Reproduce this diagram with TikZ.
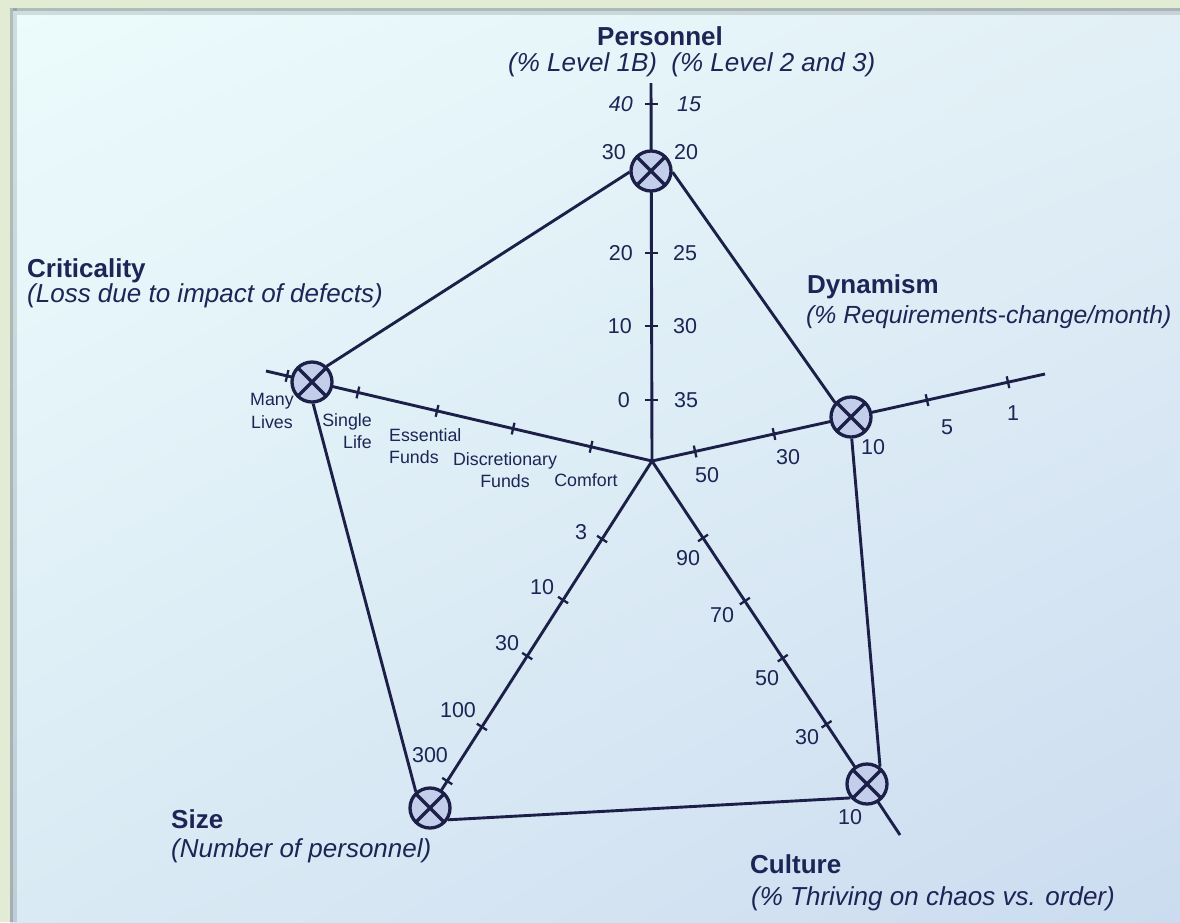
\documentclass[tikz,border=0pt]{standalone}
\usepackage{fontspec}
\setmainfont{Liberation Sans}
\usetikzlibrary{calc,shadings}

\definecolor{ink}{HTML}{1C2048}
\definecolor{txt}{HTML}{1E2455}
\definecolor{dotfill}{HTML}{C3CEEB}
\definecolor{frame}{HTML}{E2EBD3}
\definecolor{paperUL}{HTML}{ECFCFC}
\definecolor{paperUR}{HTML}{E2F0F6}
\definecolor{paperLL}{HTML}{DAEAF4}
\definecolor{paperLR}{HTML}{CCDCF0}

\pgfdeclarelayer{paper}
\pgfdeclarelayer{lines}
\pgfsetlayers{paper,lines,main}

% short mark across an axis: axis start, axis end, approximate point
\newcommand\axtick[3]{%
  \coordinate (tk) at ($(#1)!(#3)!(#2)$);
  \draw[tickmark] ($(tk)!6pt!90:(#2)$) -- ($(tk)!6pt!-90:(#2)$);}

\begin{document}
\begin{tikzpicture}[x=1pt,y=-1pt,
  axis/.style={draw=ink, line width=2.9pt},
  prof/.style={draw=ink, line width=2.9pt},
  tickmark/.style={draw=ink, line width=2.3pt},
  dot/.style={circle, draw=ink, line width=3.3pt, fill=dotfill,
    minimum size=40pt, inner sep=0pt,
    path picture={\draw[ink, line width=3.3pt]
      (path picture bounding box.north west) -- (path picture bounding box.south east)
      (path picture bounding box.north east) -- (path picture bounding box.south west);}},
  ttl/.style={font=\fontsize{26}{30}\selectfont\bfseries, text=txt, inner sep=0pt, anchor=base west},
  sub/.style={font=\fontsize{26}{30}\selectfont\itshape, text=txt, inner sep=0pt, anchor=base west},
  num/.style={font=\fontsize{21.5}{25}\selectfont, text=txt, inner sep=0pt},
  numi/.style={font=\fontsize{21.5}{25}\selectfont\itshape, text=txt, inner sep=0pt},
  cat/.style={font=\fontsize{17.8}{22.6}\selectfont, text=txt, inner sep=0pt, align=center},
]
\useasboundingbox (0,0) rectangle (1180,922);

% paper with its mount
\begin{pgfonlayer}{paper}
  \fill[frame] (0,0) rectangle (1180,922);
  \shade[upper left=paperUL, upper right=paperUR,
         lower left=paperLL, lower right=paperLR]
    (10,8) rectangle (1180,922);
  \fill[black, opacity=0.25] (10,8) rectangle (13,922);
  \fill[black, opacity=0.12] (13,8) rectangle (17,922);
  \fill[black, opacity=0.25] (13,8) rectangle (1180,11);
  \fill[black, opacity=0.12] (17,11) rectangle (1180,15);
\end{pgfonlayer}

% axes meet here
\coordinate (o) at (652,461);
\coordinate (pEnd) at (651,83);
\coordinate (cEnd) at (266,371);
\coordinate (dEnd) at (1045,374);
\coordinate (uEnd) at (900,835);
\coordinate (sEnd) at (430,808);

% profile points
\node[dot] (pers) at (651,171) {};
\node[dot] (crit) at (312,382) {};
\node[dot] (dyn)  at (851,417) {};
\node[dot] (cul)  at (867,784) {};
\node[dot] (size) at (430,808) {};

\begin{pgfonlayer}{lines}
  \draw[axis] (o) -- (pEnd);
  \draw[axis] (o) -- (cEnd);
  \draw[axis] (o) -- (dEnd);
  \draw[axis] (o) -- (uEnd);
  \draw[axis] (o) -- (size.center);

  % Personnel ticks
  \foreach \ty in {104,253,326,400}
    \draw[tickmark] (645,\ty) -- (658,\ty);
  % Criticality ticks
  \axtick{o}{cEnd}{287,376}
  \axtick{o}{cEnd}{358,392}
  \axtick{o}{cEnd}{437,411}
  \axtick{o}{cEnd}{513,429}
  \axtick{o}{cEnd}{591,447}
  % Dynamism ticks
  \axtick{o}{dEnd}{695,451}
  \axtick{o}{dEnd}{774,434}
  \axtick{o}{dEnd}{927,400}
  \axtick{o}{dEnd}{1008,382}
  % Culture ticks
  \axtick{o}{uEnd}{703,538}
  \axtick{o}{uEnd}{745,601}
  \axtick{o}{uEnd}{783,658}
  \axtick{o}{uEnd}{827,724}
  % Size ticks
  \axtick{o}{sEnd}{602,539}
  \axtick{o}{sEnd}{563,600}
  \axtick{o}{sEnd}{527,656}
  \axtick{o}{sEnd}{482,727}
  \axtick{o}{sEnd}{447,781}

  % profile outline
  \draw[prof] (crit.47) -- (pers.183);
  \draw[prof] (pers.357) -- (dyn.138);
  \draw[prof] (dyn.272) -- (cul.53);
  \draw[prof] (cul.220) -- (size.327);
  \draw[prof] (size.131) -- (crit.273);
\end{pgfonlayer}

% axis titles
\node[ttl] (persT) at (597,45) {Personnel};
\node[sub] (persS) at (508,71) {(\% Level 1B)\ \ (\% Level 2 and 3)};
\node[ttl] (critT) at (27,277) {Criticality};
\node[sub] (critS) at (27,302) {(Loss due to impact of defects)};
\node[ttl] (dynT) at (807,293) {Dynamism};
\node[sub, font=\fontsize{24.8}{30}\selectfont\itshape] (dynS) at (806,323) {(\% Requirements-change/month)};
\node[ttl] (sizeT) at (171,828) {Size};
\node[sub] (sizeS) at (171,857) {(Number of personnel)};
\node[ttl] (culT) at (750,873) {Culture};
\node[sub] (culS) at (751,905) {(\% Thriving on chaos vs. order)};

% Personnel scale
\node[numi, anchor=east] (p40) at (633,104) {40};
\node[numi, anchor=west] (p15) at (677,104) {15};
\node[num, anchor=east] (p30) at (626,152) {30};
\node[num, anchor=west] (p20) at (674,152) {20};
\node[num, anchor=east] (p20b) at (633,253) {20};
\node[num, anchor=west] (p25) at (673,253) {25};
\node[num, anchor=east] (p10) at (632,326) {10};
\node[num, anchor=west] (p30b) at (673,326) {30};
\node[num, anchor=east] (p0) at (630,400) {0};
\node[num, anchor=west] (p35) at (674,400) {35};

% Criticality scale
\node[cat] (many) at (272,411) {Many\\Lives};
\node[cat, align=right, anchor=east] (single) at (372,431) {Single\\Life};
\node[cat, align=left, anchor=west] (essential) at (389,446) {Essential\\Funds};
\node[cat] (discr) at (505,470) {Discretionary\\Funds};
\node[cat] (comfort) at (586,480) {Comfort};

% Dynamism scale
\node[num] (d50) at (707,475) {50};
\node[num] (d30) at (788,457) {30};
\node[num] (d10) at (873,447) {10};
\node[num] (d5) at (947,427) {5};
\node[num] (d1) at (1013,413) {1};

% Culture scale
\node[num] (u90) at (688,558) {90};
\node[num] (u70) at (722,615) {70};
\node[num] (u50) at (767,678) {50};
\node[num] (u30) at (807,737) {30};
\node[num] (u10) at (850,817) {10};

% Size scale
\node[num] (s3) at (581,532) {3};
\node[num] (s10) at (542,587) {10};
\node[num] (s30) at (507,643) {30};
\node[num] (s100) at (458,710) {100};
\node[num] (s300) at (430,755) {300};
\end{tikzpicture}
\end{document}
